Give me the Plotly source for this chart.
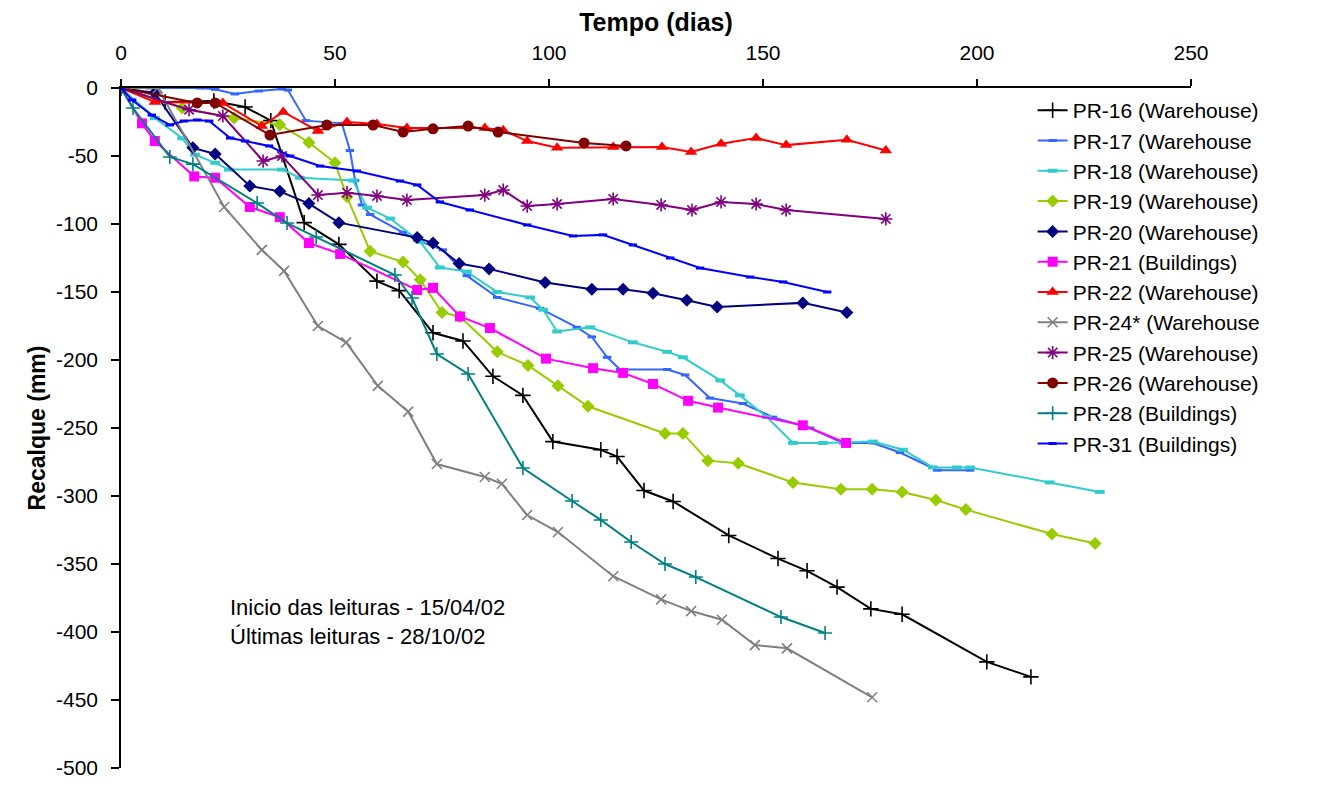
import plotly.graph_objects as go

# ---------------- data (t in days, settlement in mm) ----------------
pr16_t = [0, 10.3, 21.7, 29.0, 35.0, 42.8, 50.9, 59.8, 65.0, 72.9, 79.9, 86.9, 93.9, 100.9, 112.1, 115.9,
          122.2, 129.0, 142.0, 153.5, 160.3, 167.3, 175.2, 182.5, 202.3, 212.6]
pr16_v = [0, -10.3, -9.6, -14, -24, -99, -115, -142, -149, -180, -186, -212, -226, -260, -266, -271,
          -296, -304, -329, -346, -355, -367, -383, -387, -422, -433]

pr17_t = [0, 6.8, 18.5, 22.0, 26.6, 32.2, 37.6, 39.0, 43.2, 51.6, 53.5, 54.7, 56.3, 58.2, 65.9, 69.2,
          75.2, 80.8, 87.9, 97.9, 106.5, 110.0, 113.6, 116.6, 127.6, 131.8, 137.6, 145.3, 152.3, 161.0,
          168.7, 175.7, 182.0, 190.7, 198.4]
pr17_v = [0, 0, 0, -1, -4.4, -2.2, -0.7, -1.5, -24, -26, -46, -68, -86, -93, -106, -112,
          -119, -138, -154, -162, -176, -183, -198, -207, -207, -211, -228, -232, -242, -250,
          -261, -261, -268, -281, -281]

pr18_t = [0, 7.9, 14.3, 17.3, 22.0, 25.2, 37.6, 41.8, 54.2, 57.5, 62.9, 69.9, 74.5, 80.8, 87.9, 95.6,
          98.6, 101.9, 109.6, 119.6, 127.6, 131.3, 140.0, 144.6, 150.9, 157.0, 164.0, 175.7, 182.7,
          189.7, 195.3, 198.4, 217.0, 228.7]
pr18_v = [0, -22, -37, -49, -55, -60, -60, -66, -68, -88, -96, -113, -132, -135, -150, -154,
          -163, -179, -176, -187, -194, -198, -215, -226, -242, -261, -261, -260, -266,
          -279, -279, -279, -290, -297]

pr19_t = [0, 14.3, 26.4, 37.1, 43.9, 50.0, 52.8, 58.2, 65.9, 69.9, 75.0, 79.2, 87.9, 95.1, 102.1, 109.1,
          127.1, 131.3, 137.1, 144.2, 157.0, 168.2, 175.5, 182.5, 190.4, 197.4, 217.5, 227.6]
pr19_v = [0, -14.7, -22, -27, -40, -55, -80, -120, -128, -141, -165, -168, -194, -204, -219, -234,
          -254, -254, -274, -276, -290, -295, -295, -297, -303, -310, -328, -335]

pr20_t = [0, 7.9, 16.8, 22.0, 30.1, 37.1, 43.9, 50.9, 69.2, 72.9, 79.0, 86.0, 99.1, 110.0, 117.3, 124.3,
          132.2, 139.3, 159.3, 169.6]
pr20_v = [0, -3.7, -44, -48.5, -72, -76, -85, -99, -110, -114, -129, -133, -143, -148, -148, -151,
          -156, -161, -158, -165]

pr21_t = [0, 4.9, 7.9, 17.1, 22.0, 30.1, 37.1, 43.9, 51.2, 69.2, 72.9, 79.2, 86.2, 99.3, 110.3, 117.3,
          124.3, 132.5, 139.5, 159.3, 169.4]
pr21_v = [0, -26, -39, -65, -66, -87.5, -95, -114, -122, -148.5, -147, -168, -176.5, -199, -206, -209.5,
          -217.6, -230, -235, -248, -261]

pr22_t = [0, 7.9, 23.8, 32.9, 37.9, 46.0, 52.8, 59.8, 66.8, 85.0, 89.3, 94.9, 101.9, 115.0, 126.4, 133.2,
          140.2, 148.4, 155.4, 169.6, 178.7]
pr22_v = [0, -10.3, -11, -28, -17.6, -31.6, -25, -26.5, -29.4, -29.4, -31, -39, -44, -43.4, -43.4, -47,
          -41, -36.8, -42, -38, -46]

pr24_t = [0, 8.6, 24.1, 32.9, 38.1, 46.0, 52.6, 60.0, 67.1, 73.8, 85.0, 89.0, 94.9, 102.1, 115.0, 126.2,
          133.2, 140.4, 148.1, 155.6, 175.5]
pr24_v = [0, 0, -87.5, -119, -134.5, -175, -187, -219, -238, -276.5, -286, -291, -314, -326.5, -359, -376,
          -384.6, -391, -409.6, -412, -448]

pr25_t = [0, 15.9, 23.8, 33.2, 37.6, 46.0, 52.8, 59.8, 66.8, 85.0, 89.3, 94.9, 101.9, 115.0, 126.2, 133.4,
          140.2, 148.4, 155.4, 178.7]
pr25_v = [0, -16, -20.6, -53.7, -50, -78.7, -77, -79.4, -82.4, -78.7, -75, -86.8, -85.3, -81.6, -86, -89.7,
          -83.8, -85.3, -89.7, -96.3]

pr26_t = [0, 17.8, 22.0, 34.8, 48.1, 58.9, 65.9, 72.9, 81.1, 88.1, 108.2, 118.0]
pr26_v = [0, -11, -11, -34.6, -27.2, -27.2, -32.4, -30, -28, -32.4, -40.4, -42.6]

pr28_t = [0, 2.8, 11.4, 16.8, 31.8, 38.8, 45.6, 64.0, 68.0, 73.8, 81.1, 93.9, 105.4, 112.1, 119.2, 127.1,
          134.3, 154.2, 164.5]
pr28_v = [0, -14.7, -50.7, -56, -84.6, -99.3, -109.6, -137.5, -154.4, -195.6, -210.3, -279.4, -303.7,
          -317.6, -333.8, -350, -359.6, -389, -400.7]

pr31_t = [0, 2.6, 7.2, 11.4, 14.7, 17.8, 20.6, 25.5, 29.0, 34.6, 39.5, 46.5, 55.1, 65.2, 69.2, 74.5,
          81.5, 94.9, 105.6, 112.6, 119.6, 128.3, 135.3, 147.0, 154.7, 165.0]
pr31_v = [0, -8.8, -19.9, -27.2, -24.3, -23.5, -24.3, -36.8, -39, -42.6, -50, -57.4, -61, -68.4, -71.3,
          -83.8, -89.7, -100.7, -108.8, -108, -115.4, -125, -132.4, -139, -142.6, -150]

series_names = ["PR-16 (Warehouse)", "PR-17 (Warehouse", "PR-18 (Warehouse)", "PR-19 (Warehouse)",
                "PR-20 (Warehouse)", "PR-21 (Buildings)", "PR-22 (Warehouse)", "PR-24* (Warehouse",
                "PR-25 (Warehouse)", "PR-26 (Warehouse)", "PR-28 (Buildings)", "PR-31 (Buildings)"]

x_ticks = [0, 50, 100, 150, 200, 250]
y_ticks = [0, -50, -100, -150, -200, -250, -300, -350, -400, -450, -500]

note_lines = ["Inicio das leituras - 15/04/02", "Últimas leituras - 28/10/02"]

# ---------------- styles ----------------
data = [(pr16_t, pr16_v), (pr17_t, pr17_v), (pr18_t, pr18_v), (pr19_t, pr19_v), (pr20_t, pr20_v),
        (pr21_t, pr21_v), (pr22_t, pr22_v), (pr24_t, pr24_v), (pr25_t, pr25_v), (pr26_t, pr26_v),
        (pr28_t, pr28_v), (pr31_t, pr31_v)]

styles = [
    dict(color="#000000", symbol="cross-thin", size=11, lw=1.6),
    dict(color="#3366FF", symbol="line-ew", size=6, lw=3),
    dict(color="#33CCCC", symbol="line-ew", size=7, lw=4),
    dict(color="#99CC00", symbol="diamond", size=10, lw=0),
    dict(color="#000080", symbol="diamond", size=10, lw=0),
    dict(color="#FF00FF", symbol="square", size=10, lw=0),
    dict(color="#FF0000", symbol="triangle-up", size=11, lw=0),
    dict(color="#808080", symbol="x-thin", size=10, lw=1.6),
    dict(color="#800080", symbol="asterisk", size=11, lw=1.6),
    dict(color="#800000", symbol="circle", size=11, lw=0),
    dict(color="#008080", symbol="cross-thin", size=10, lw=1.6),
    dict(color="#0000FF", symbol="line-ew", size=6, lw=3),
]

FONT = "Liberation Sans, Arial, sans-serif"

fig = go.Figure()
for (t, v), name, st in zip(data, series_names, styles):
    fig.add_trace(go.Scatter(
        x=t, y=v, name=name, mode="lines+markers",
        line=dict(color=st["color"], width=2),
        marker=dict(symbol=st["symbol"], size=st["size"], color=st["color"],
                    line=dict(color=st["color"], width=st["lw"])),
    ))

fig.update_layout(
    width=1316, height=782,
    paper_bgcolor="white", plot_bgcolor="white",
    margin=dict(l=113, r=133, t=80, b=22),
    font=dict(family=FONT, color="black", size=21),
    showlegend=True,
    legend=dict(x=0.852, y=0.997, xanchor="left", yanchor="top",
                bgcolor="rgba(0,0,0,0)", font=dict(size=21, family=FONT),
                tracegroupgap=0),
    annotations=[dict(text="<br>".join(note_lines), xref="paper", yref="paper",
                      x=0.1, y=0.214, xanchor="left", yanchor="middle", align="left",
                      showarrow=False, font=dict(size=22, family=FONT))],
)

fig.update_xaxes(
    side="top", range=[0, 250], tickvals=x_ticks, ticktext=[str(v) for v in x_ticks],
    ticks="outside", ticklen=7, tickwidth=1.5, ticklabelstandoff=11, automargin=False,
    tickcolor="black", showline=True, linecolor="black", linewidth=1.5, showgrid=False,
    zeroline=False, tickfont=dict(size=21),
    title=dict(text="<b>Tempo (dias)</b>", font=dict(size=25), standoff=12),
)
fig.update_yaxes(
    range=[-500, 0], tickvals=y_ticks, ticktext=[str(v) for v in y_ticks],
    ticks="outside", ticklen=8, tickwidth=1.5, ticklabelstandoff=9, automargin=False,
    tickcolor="black", showline=True, linecolor="black", linewidth=1.5, showgrid=False,
    zeroline=False, tickfont=dict(size=21),
    title=dict(text="<b>Recalque (mm)</b>", font=dict(size=23), standoff=4),
)

fig.write_html("out.html")
